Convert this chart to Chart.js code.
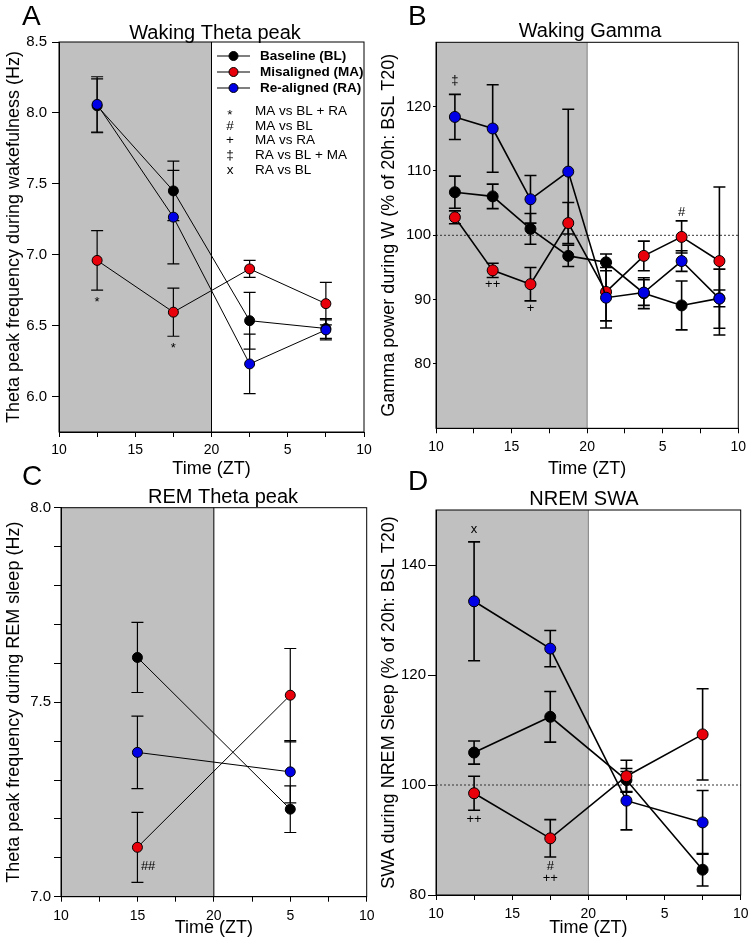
<!DOCTYPE html>
<html>
<head>
<meta charset="utf-8">
<script src="https://cdn.jsdelivr.net/npm/chart.js@4.4.0/dist/chart.umd.min.js"></script>
<style>
  body { margin: 0; background: #fff; }
  #wrap { position: relative; width: 750px; height: 950px; overflow: hidden; background: #fff; }
  canvas { position: absolute; }
</style>
</head>
<body>
<div id="wrap">
  <canvas id="cA" width="375" height="490" style="left:0;top:0;width:375px;height:490px"></canvas>
  <canvas id="cB" width="375" height="490" style="left:375px;top:0;width:375px;height:490px"></canvas>
  <canvas id="cC" width="375" height="495" style="left:0;top:455px;width:375px;height:495px"></canvas>
  <canvas id="cD" width="375" height="495" style="left:375px;top:455px;width:375px;height:495px"></canvas>
</div>
<script>
const FONT = "'Liberation Sans', Arial, sans-serif";

const seriesNames = ['Baseline (BL)', 'Misaligned (MA)', 'Re-aligned (RA)'];
const seriesColors = ['#000000', '#e8000b', '#0000e6'];
const sigSymbols = ['*', '#', '+', '\u2021', 'x'];
const sigMeanings = ['MA vs BL + RA', 'MA vs BL', 'MA vs RA', 'RA vs BL + MA', 'RA vs BL'];

// time axis (ZT), 25 and 30 are shown as 5 and 10 of next day
const xTickValues = [10, 12.5, 15, 17.5, 20, 22.5, 25, 27.5, 30];
const xTickLabels = ['10', '', '15', '', '20', '', '5', '', '10'];

// A - waking theta peak (Hz)
const timeA = [12.5, 17.5, 22.5, 27.5];
const blA = [8.05, 7.45, 6.535, 6.48];
const blErrA = [0.19, 0.21, 0.2, 0.07];
const maA = [6.96, 6.595, 6.9, 6.655];
const maErrA = [0.21, 0.17, 0.06, 0.15];
const raA = [8.06, 7.265, 6.23, 6.47];
const raErrA = [0.195, 0.33, 0.21, 0.07];
const yTicksA = [6.0, 6.5, 7.0, 7.5, 8.0, 8.5];
const yLabelsA = ['6.0', '6.5', '7.0', '7.5', '8.0', '8.5'];
const annotA = [['*', 12.5, 6.69], ['*', 17.5, 6.37]];

// B - waking gamma (% of 20h BSL)
const timeB = [11.25, 13.75, 16.25, 18.75, 21.25, 23.75, 26.25, 28.75];
const blB = [106.7, 106.05, 101.0, 96.8, 95.8, 91.0, 89.1, 90.2];
const blErrB = [2.5, 1.9, 2.4, 1.65, 1.3, 2.4, 3.8, 1.3];
const maB = [102.8, 94.55, 92.4, 101.9, 91.2, 96.8, 99.75, 96.0];
const maErrB = [1.0, 1.1, 2.6, 3.2, 4.5, 2.3, 2.5, 11.5];
const raB = [118.4, 116.6, 105.6, 109.9, 90.3, 91.1, 96.0, 90.15];
const raErrB = [3.5, 6.8, 3.7, 9.7, 4.7, 2.0, 1.6, 4.6];
const yTicksB = [80, 90, 100, 110, 120];
const yLabelsB = ['80', '90', '100', '110', '120'];
const annotB = [['\u2021', 11.25, 124.0], ['++', 13.75, 92.4], ['+', 16.25, 88.6], ['#', 26.25, 103.6]];

// C - REM theta peak (Hz)
const timeC = [15, 25];
const blC = [7.615, 7.225];
const blErrC = [0.09, 0.06];
const maC = [7.127, 7.518];
const maErrC = [0.09, 0.12];
const raC = [7.371, 7.321];
const raErrC = [0.093, 0.08];
const yTicksC = [7.0, 7.1, 7.2, 7.3, 7.4, 7.5, 7.6, 7.7, 7.8, 7.9, 8.0];
const yLabelsC = ['7.0', '', '', '', '', '7.5', '', '', '', '', '8.0'];
const annotC = [['##', 15.7, 7.077]];

// D - NREM SWA (% of 20h BSL)
const timeD = [12.5, 17.5, 22.5, 27.5];
const blD = [105.9, 112.4, 100.9, 84.6];
const blErrD = [2.1, 4.6, 2.1, 2.95];
const maD = [98.5, 90.3, 101.6, 109.2];
const maErrD = [3.1, 3.4, 2.9, 8.3];
const raD = [133.4, 124.8, 97.15, 93.2];
const raErrD = [10.8, 3.3, 5.3, 5.8];
const yTicksD = [80, 100, 120, 140];
const yLabelsD = ['80', '100', '120', '140'];
const annotD = [['x', 12.5, 146.4], ['++', 12.5, 93.8], ['#', 17.5, 85.2], ['++', 17.5, 83.1]];

const deco = {};

const decoPlugin = {
  id: 'deco',
  beforeDraw(chart) {
    const c = deco[chart.canvas.id];
    const { ctx, chartArea: a, scales: { x, y } } = chart;
    ctx.save();
    const x20 = x.getPixelForValue(20);
    ctx.fillStyle = '#c0c0c0';
    ctx.fillRect(a.left, a.top, x20 - a.left, a.bottom - a.top);
    ctx.strokeStyle = c.divColor;
    ctx.lineWidth = 1;
    ctx.beginPath();
    ctx.moveTo(x20, a.top);
    ctx.lineTo(x20, a.bottom);
    ctx.stroke();
    if (c.ref != null) {
      const yr = y.getPixelForValue(c.ref);
      ctx.setLineDash([2, 2]);
      ctx.strokeStyle = '#333';
      ctx.beginPath();
      ctx.moveTo(a.left, yr);
      ctx.lineTo(a.right, yr);
      ctx.stroke();
      ctx.setLineDash([]);
    }
    ctx.restore();
  },
  beforeDatasetsDraw(chart) {
    const c = deco[chart.canvas.id];
    const { ctx, scales: { y } } = chart;
    ctx.save();
    ctx.strokeStyle = '#000';
    ctx.lineWidth = c.ew;
    chart.data.datasets.forEach((ds, di) => {
      const meta = chart.getDatasetMeta(di);
      ds.data.forEach((p, i) => {
        const px = meta.data[i].x;
        const t = y.getPixelForValue(p.y + ds.errors[i]);
        const b = y.getPixelForValue(p.y - ds.errors[i]);
        ctx.beginPath();
        ctx.moveTo(px, t); ctx.lineTo(px, b);
        ctx.moveTo(px - 6, t); ctx.lineTo(px + 6, t);
        ctx.moveTo(px - 6, b); ctx.lineTo(px + 6, b);
        ctx.stroke();
      });
    });
    ctx.restore();
  },
  afterDraw(chart) {
    const c = deco[chart.canvas.id];
    const { ctx, chartArea: a, scales: { x, y } } = chart;
    ctx.save();
    ctx.strokeStyle = '#000';
    ctx.lineWidth = 1;
    ctx.strokeRect(a.left, a.top, a.right - a.left, a.bottom - a.top);

    ctx.fillStyle = '#000';
    ctx.textAlign = 'left';
    ctx.textBaseline = 'alphabetic';
    ctx.font = '28px ' + FONT;
    ctx.fillText(c.letter, c.letterX, c.letterY);
    ctx.textAlign = 'center';
    ctx.font = '20px ' + FONT;
    ctx.fillText(c.title, c.titleX, c.titleY);

    ctx.font = '13px ' + FONT;
    ctx.textBaseline = 'middle';
    c.annot.forEach(([txt, ax, ay]) => {
      const shift = txt === '*' ? 4 : 0;
      ctx.fillText(txt, x.getPixelForValue(ax), y.getPixelForValue(ay) + shift);
    });

    if (c.legend) {
      seriesNames.forEach((n, k) => {
        const yy = 56 + k * 16;
        ctx.strokeStyle = '#000';
        ctx.lineWidth = 1.2;
        ctx.beginPath();
        ctx.moveTo(217, yy); ctx.lineTo(250, yy);
        ctx.stroke();
        ctx.beginPath();
        ctx.arc(233.5, yy, 4.5, 0, Math.PI * 2);
        ctx.fillStyle = seriesColors[k];
        ctx.fill();
        ctx.lineWidth = 1;
        ctx.stroke();
        ctx.fillStyle = '#000';
        ctx.textAlign = 'left';
        ctx.font = 'bold 13.5px ' + FONT;
        ctx.fillText(n, 260, yy);
      });
      ctx.font = '13.5px ' + FONT;
      sigSymbols.forEach((s, k) => {
        const yy = 111 + k * 14.8;
        ctx.textAlign = 'center';
        ctx.fillText(s, 230, yy + (s === '*' ? 4 : 0));
        ctx.textAlign = 'left';
        ctx.fillText(sigMeanings[k], 255, yy);
      });
    }
    ctx.restore();
  }
};

function buildChart(id, p) {
  deco[id] = p.deco;
  const sets = [2, 1, 0].map(k => ({
    label: seriesNames[k],
    data: p.x.map((xv, i) => ({ x: xv, y: p.vals[k][i] })),
    errors: p.errs[k],
    borderColor: '#000',
    borderWidth: p.lw,
    pointBackgroundColor: seriesColors[k],
    pointBorderColor: '#000',
    pointBorderWidth: 1,
    pointRadius: p.r,
    pointHoverRadius: p.r,
    tension: 0,
    fill: false,
    clip: false
  }));
  return new Chart(document.getElementById(id), {
    type: 'line',
    data: { datasets: sets },
    options: {
      responsive: false,
      animation: false,
      events: [],
      layout: { padding: p.pad },
      plugins: { legend: { display: false }, tooltip: { enabled: false } },
      scales: {
        x: {
          type: 'linear',
          min: 10,
          max: 30,
          afterBuildTicks: s => { s.ticks = xTickValues.map(v => ({ value: v })); },
          afterFit: s => { s.height = p.xh; s.paddingLeft = 0; s.paddingRight = 0; },
          ticks: {
            autoSkip: false, maxRotation: 0, padding: p.xpad, color: '#000',
            font: { family: FONT, size: 14 },
            callback: (v, i) => xTickLabels[i]
          },
          grid: { drawOnChartArea: false, tickLength: 5, color: '#000' },
          border: { display: true, color: '#000' },
          title: { display: true, text: 'Time (ZT)', color: '#000', padding: 0, font: { family: FONT, size: 18 } }
        },
        y: {
          min: p.ymin,
          max: p.ymax,
          afterBuildTicks: s => { s.ticks = p.yTicks.map(v => ({ value: v })); },
          afterFit: s => { s.width = p.yw; s.paddingTop = 0; s.paddingBottom = 0; },
          ticks: {
            padding: p.ypad, color: '#000',
            font: { family: FONT, size: 15 },
            callback: (v, i) => p.yLabels[i]
          },
          grid: { drawOnChartArea: false, tickLength: p.ytl, color: '#000' },
          border: { display: true, color: '#000' },
          title: { display: true, text: p.ytitle, color: '#000', padding: 0, font: { family: FONT, size: 18 } }
        }
      }
    },
    plugins: [decoPlugin]
  });
}

buildChart('cA', {
  x: timeA, vals: [blA, maA, raA], errs: [blErrA, maErrA, raErrA],
  lw: 1, r: 5, ymin: 5.75, ymax: 8.5, yTicks: yTicksA, yLabels: yLabelsA,
  ytitle: 'Theta peak frequency during wakefulness (Hz)',
  pad: { left: 3, right: 11, top: 42, bottom: 10 }, xh: 48, yw: 56, xpad: 5, ypad: 5, ytl: 7,
  deco: { letter: 'A', letterX: 22, letterY: 25, title: 'Waking Theta peak', titleX: 215, titleY: 39,
          divColor: '#000', ref: null, annot: annotA, legend: true, ew: 1.2 }
});

buildChart('cB', {
  x: timeB, vals: [blB, maB, raB], errs: [blErrB, maErrB, raErrB],
  lw: 1.6, r: 5.5, ymin: 70, ymax: 130, yTicks: yTicksB, yLabels: yLabelsB,
  ytitle: 'Gamma power during W (% of 20h: BSL T20)',
  pad: { left: 3, right: 11.7, top: 42.3, bottom: 10 }, xh: 51.7, yw: 58, xpad: 5, ypad: 2, ytl: 3,
  deco: { letter: 'B', letterX: 33, letterY: 25, title: 'Waking Gamma', titleX: 215, titleY: 37,
          divColor: '#808080', ref: 100, annot: annotB, legend: false, ew: 1.6 }
});

buildChart('cC', {
  x: timeC, vals: [blC, maC, raC], errs: [blErrC, maErrC, raErrC],
  lw: 1, r: 5, ymin: 7.0, ymax: 8.0, yTicks: yTicksC, yLabels: yLabelsC,
  ytitle: 'Theta peak frequency during REM sleep (Hz)',
  pad: { left: 3, right: 8.3, top: 52.7, bottom: 11.2 }, xh: 42.1, yw: 58, xpad: 6, ypad: 3, ytl: 7,
  deco: { letter: 'C', letterX: 22, letterY: 30, title: 'REM Theta peak', titleX: 223, titleY: 48,
          divColor: '#000', ref: null, annot: annotC, legend: false, ew: 1.2 }
});

buildChart('cD', {
  x: timeD, vals: [blD, maD, raD], errs: [blErrD, maErrD, raErrD],
  lw: 1.6, r: 5.5, ymin: 80, ymax: 150, yTicks: yTicksD, yLabels: yLabelsD,
  ytitle: 'SWA during NREM Sleep (% of 20h: BSL T20)',
  pad: { left: 3, right: 9.3, top: 55, bottom: 11.2 }, xh: 43.8, yw: 58, xpad: 6, ypad: 2, ytl: 8,
  deco: { letter: 'D', letterX: 33, letterY: 35, title: 'NREM SWA', titleX: 209, titleY: 50,
          divColor: '#808080', ref: 100, annot: annotD, legend: false, ew: 1.6 }
});
</script>
</body>
</html>
